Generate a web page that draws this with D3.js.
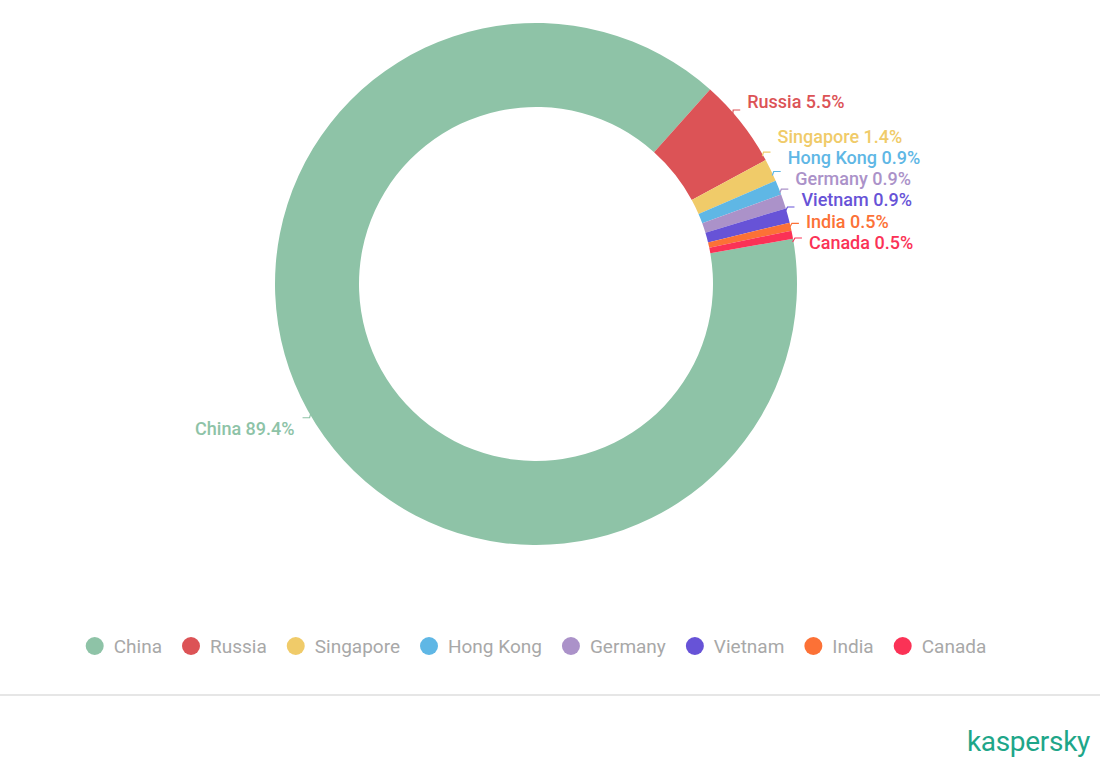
<!DOCTYPE html>
<html>
<head>
<meta charset="utf-8">
<script src="https://cdn.jsdelivr.net/npm/d3@7"></script>
<style>
  body { margin: 0; background: #fff; }
  svg { display: block; font-family: Roboto, "Noto Sans", sans-serif; }
</style>
</head>
<body>
<div id="app"></div>
<script>
const countries = ["China", "Russia", "Singapore", "Hong Kong", "Germany", "Vietnam", "India", "Canada"];
const shares    = [89.4, 5.5, 1.4, 0.9, 0.9, 0.9, 0.5, 0.5];
const colors    = ["#8ec3a7", "#dc5356", "#f0cb69", "#5fb7e5", "#ab92c9", "#6753d7", "#fc7136", "#fb3256"];

const W = 1100, H = 763,
      cx = 536, cy = 284,
      rOuter = 261, rInner = 177;

const data = countries.map((c, i) => ({ name: c, value: shares[i], color: colors[i] }));

const svg = d3.select("#app").append("svg")
  .attr("width", W)
  .attr("height", H);

const g = svg.append("g").attr("transform", `translate(${cx},${cy})`);

// pie starts with China just past 3 o'clock
const start = 80 * Math.PI / 180;
const pie = d3.pie().sort(null).value(d => d.value)
  .startAngle(start).endAngle(start + 2 * Math.PI);
const arc = d3.arc().innerRadius(rInner).outerRadius(rOuter);
const arcs = pie(data);

g.selectAll("path.slice")
  .data(arcs)
  .enter().append("path")
  .attr("class", "slice")
  .attr("d", arc)
  .attr("fill", d => d.data.color);

// label layout
const labels = arcs.map(d => {
  const a = (d.startAngle + d.endAngle) / 2;
  const right = Math.sin(a) > 0;
  const ny = -Math.cos(a) * (rOuter + 6);
  return { d, a, right, ny, y: ny };
});

// push stacked labels upward from the bottom on the right side
const step = 21.2;
const rightSide = labels.filter(l => l.right).sort((a, b) => b.ny - a.ny);
rightSide.forEach((l, i) => {
  if (i === 0) { l.y = l.ny + 9; return; }
  l.y = Math.min(l.ny, rightSide[i - 1].y - step);
});
if (rightSide.length > 1) rightSide[rightSide.length - 1].y -= 14;

const xOn = (r, y) => Math.sqrt(Math.max(r * r - y * y, 0));

labels.forEach(l => {
  const s = l.right ? 1 : -1;
  if (l.right) {
    l.ly = (l.ny + l.y) / 2;
    l.ty = l.y;
  } else {
    l.ly = l.ny + 4;
    l.ty = l.ly + 11;
  }
  l.p0 = [s * xOn(rOuter - 1, l.ly + 4 * s), l.ly + 4 * s];
  l.p1 = [s * xOn(rOuter + 2, l.ly), l.ly];
  l.p2 = [l.p1[0] + s * 7, l.ly];
});

const lg = g.append("g");
lg.selectAll("polyline")
  .data(labels)
  .enter().append("polyline")
  .attr("points", l => [l.p0, l.p1, l.p2].map(p => p.join(",")).join(" "))
  .attr("fill", "none")
  .attr("stroke", l => l.d.data.color)
  .attr("stroke-width", 1.2);

lg.selectAll("text")
  .data(labels)
  .enter().append("text")
  .attr("x", l => l.p2[0] + (l.right ? 7 : -8))
  .attr("y", l => l.ty)
  .attr("dy", "0.35em")
  .attr("text-anchor", l => l.right ? "start" : "end")
  .attr("fill", l => l.d.data.color)
  .style("font-size", "18px")
  .style("font-weight", 500)
  .text(l => `${l.d.data.name} ${l.d.data.value}%`);

// legend
const legend = svg.append("g").attr("transform", "translate(0,646)");
const items = legend.selectAll("g.item")
  .data(data)
  .enter().append("g")
  .attr("class", "item");

items.append("circle")
  .attr("r", 9)
  .attr("fill", d => d.color);

items.append("text")
  .attr("x", 19)
  .attr("dy", "0.35em")
  .attr("fill", "#a8a8a8")
  .style("font-size", "19px")
  .text(d => d.name);

let widths = [];
items.each(function () {
  widths.push(19 + this.querySelector("text").getComputedTextLength());
});
const gap = 29;
const total = d3.sum(widths) + gap * (widths.length - 1) + 9;
let xpos = cx - total / 2 + 9;
items.attr("transform", (d, i) => {
  const t = `translate(${xpos},0)`;
  xpos += widths[i] + gap;
  return t;
});

// divider
svg.append("line")
  .attr("x1", 0).attr("x2", W)
  .attr("y1", 695).attr("y2", 695)
  .attr("stroke", "#e6e6e6")
  .attr("stroke-width", 2);

// brand
svg.append("text")
  .attr("x", 1090)
  .attr("y", 751)
  .attr("text-anchor", "end")
  .attr("fill", "#1ea689")
  .style("font-size", "28px")
  .style("letter-spacing", "-0.3px")
  .text("kaspersky");
</script>
</body>
</html>
